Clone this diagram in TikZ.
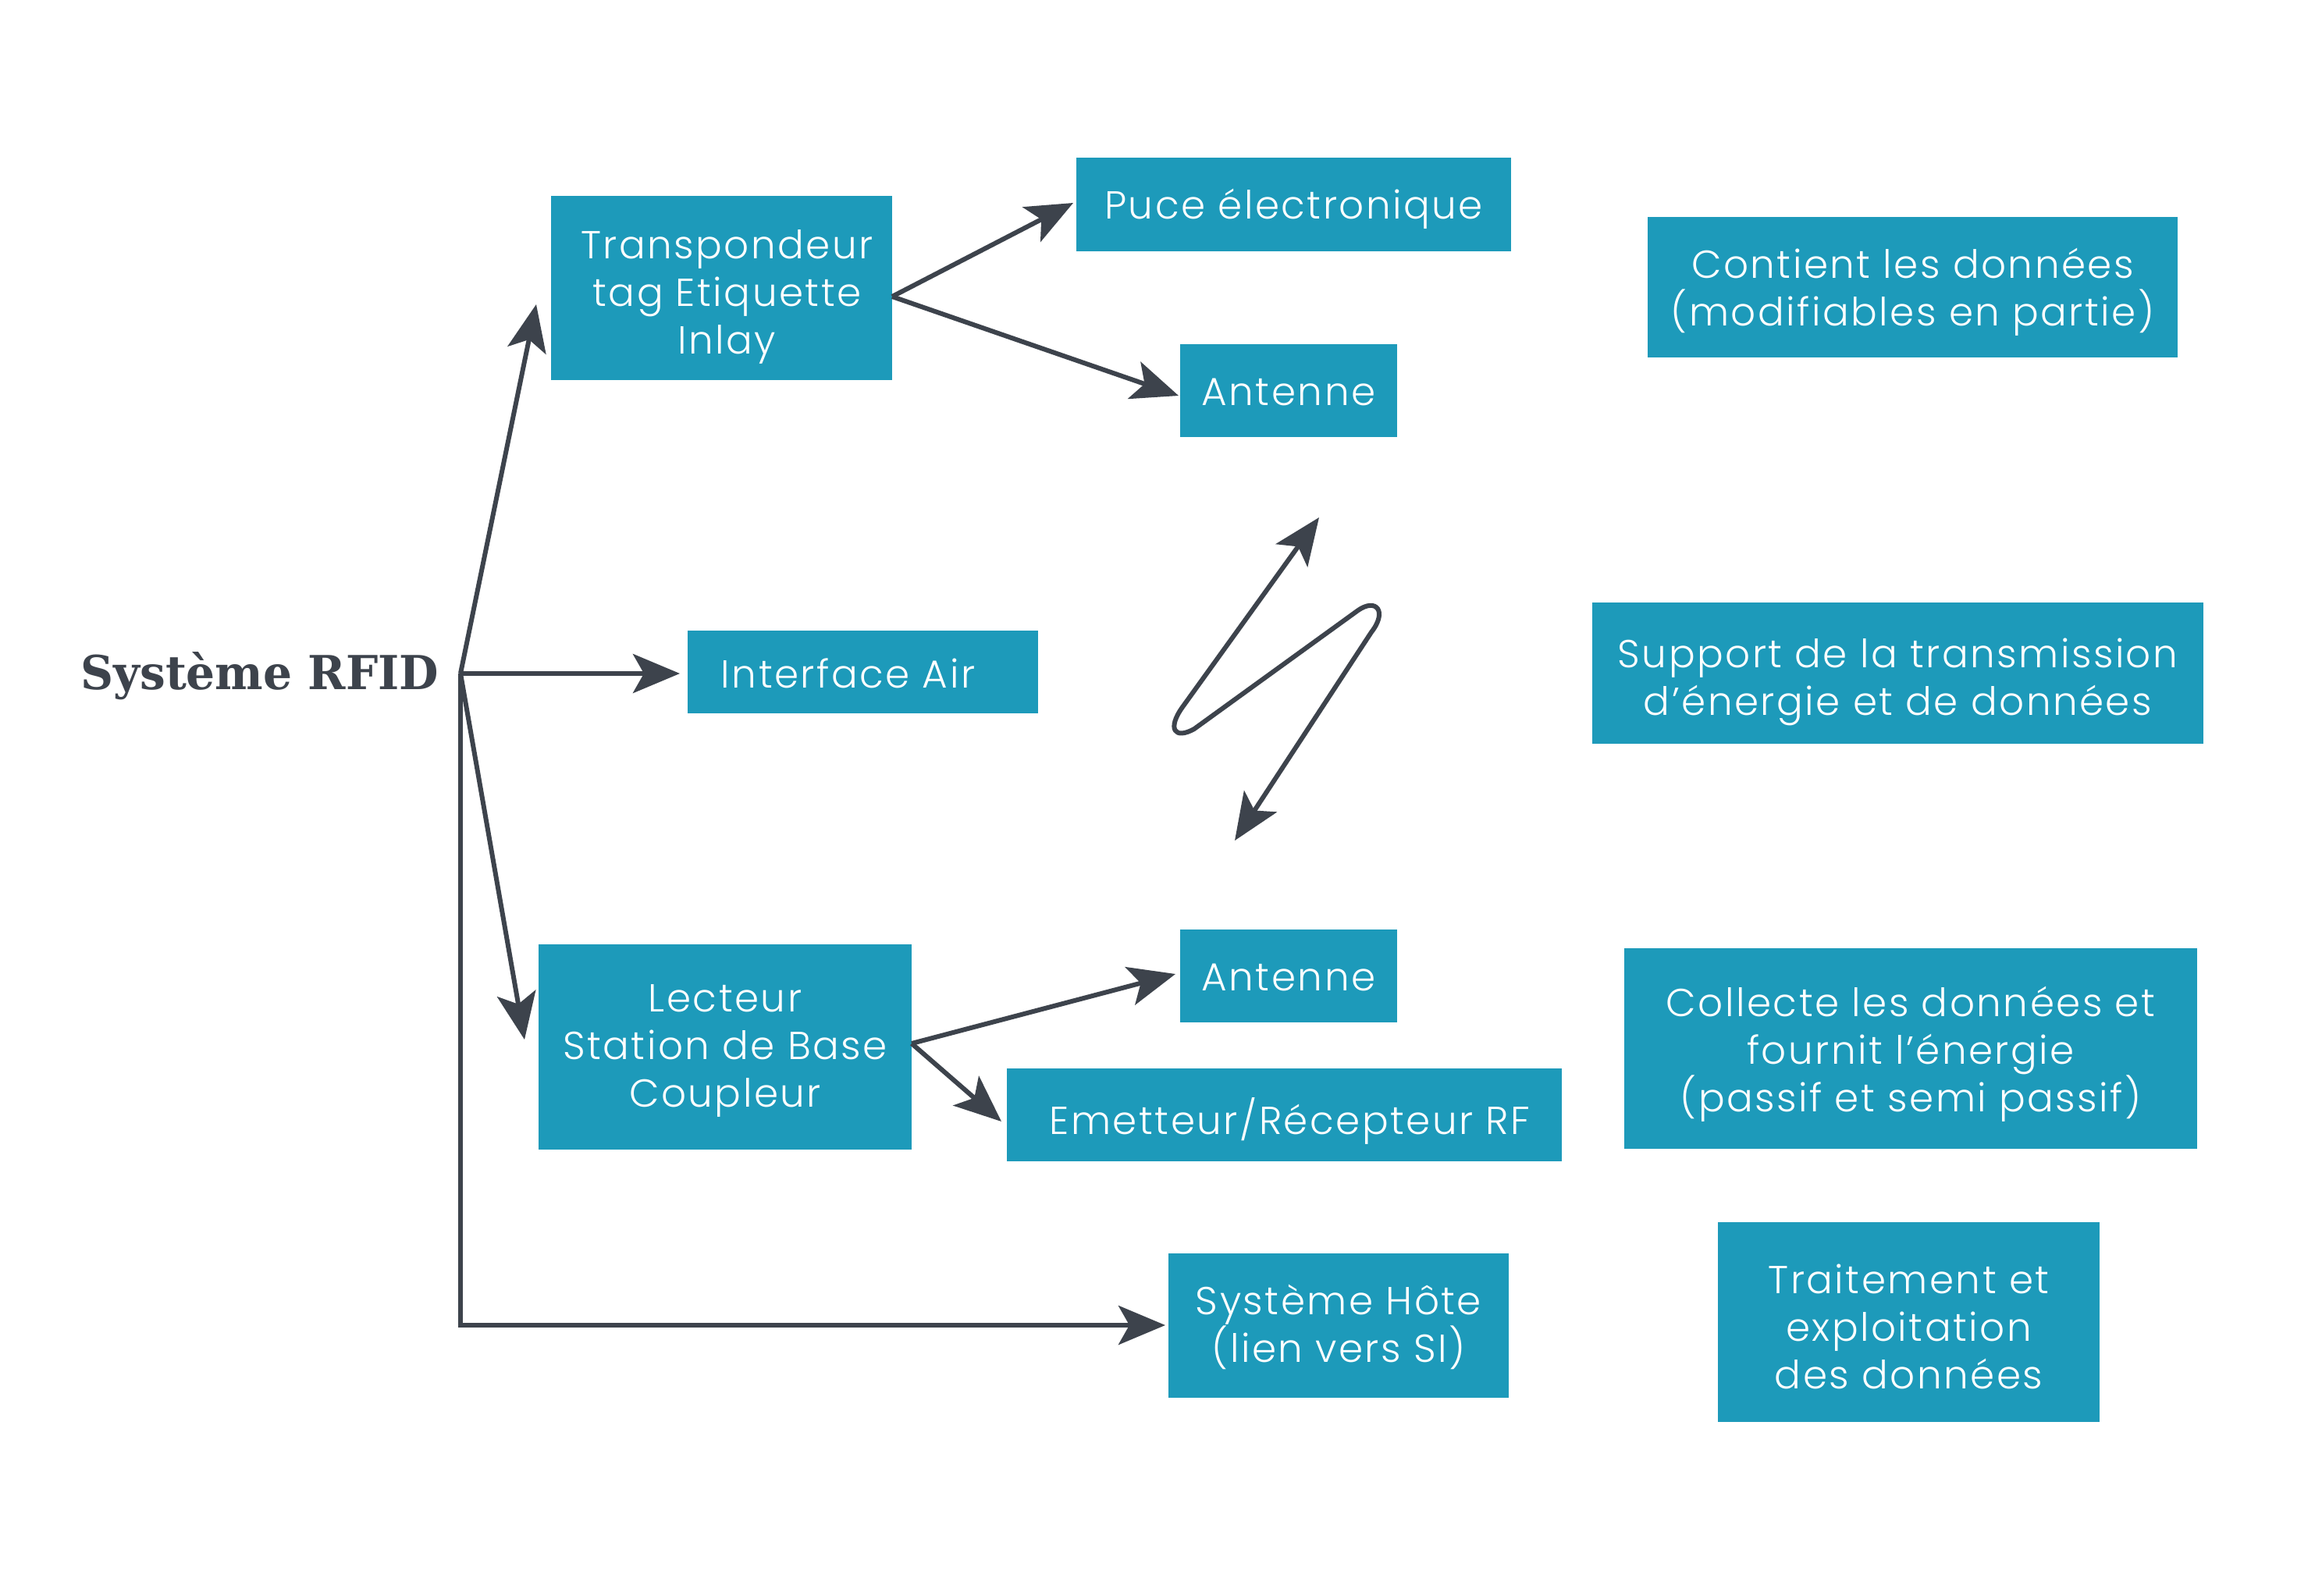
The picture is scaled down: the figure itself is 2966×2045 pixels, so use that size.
\documentclass[tikz,border=0pt]{standalone}
\usepackage{fontspec}
\setmainfont{Poppins}[UprightFont=* Light, LetterSpace=5]
\newfontfamily\rfidfont{DejaVu Serif}[FakeStretch=0.97]
\usetikzlibrary{arrows.meta}
\definecolor{boxteal}{RGB}{29,154,186}
\definecolor{arrowgray}{RGB}{61,67,76}
\tikzset{
  >={Stealth[length=15pt,width=12.5pt,inset=3.5pt]},
  box/.style={fill=boxteal, draw=none, inner sep=0pt, outer sep=0pt},
  boxtext/.style={text=white, align=center, inner sep=0pt,
    font=\fontsize{12.5pt}{15.25pt}\selectfont},
  conn/.style={draw=arrowgray, line width=1.5pt, ->},
}
% name, x1, y1, x2, y2, text dx, text dy, text (pixel coordinates)
\newcommand\mybox[8]{%
  \node[box, minimum width={0.25pt*(#4-#2)}, minimum height={0.25pt*(#5-#3)},
    label={[boxtext, xshift={0.25pt*(#6)}, yshift={-0.25pt*(#7)}]center:{#8}}]
    (#1) at ({(#2+#4)/2},{(#3+#5)/2}) {};}
\begin{document}
\begin{tikzpicture}[x=0.25pt,y=-0.25pt]
\useasboundingbox[fill=white] (0,0) rectangle (2966,2045);

% boxes
\mybox{trans}{706}{251}{1143}{487}{7}{11}{Transpondeur\\tag Etiquette\\Inlay}
\mybox{puce}{1379}{202}{1936}{322}{0}{6}{Puce électronique}
\mybox{ant1}{1512}{441}{1790}{560}{0}{2}{Antenne}
\mybox{contient}{2111}{278}{2790}{458}{0}{6}{Contient les données\\(modifiables en partie)}
\mybox{iface}{881}{808}{1330}{914}{-19}{2}{Interface Air}
\mybox{support}{2040}{772}{2823}{953}{0}{11}{Support de la transmission\\d’énergie et de données}
\mybox{lecteur}{690}{1210}{1168}{1473}{0}{5}{Lecteur\\Station de Base\\Coupleur}
\mybox{ant2}{1512}{1191}{1790}{1310}{0}{2}{Antenne}
\mybox{emet}{1290}{1369}{2001}{1488}{7}{8}{Emetteur/Récepteur RF}
\mybox{collecte}{2081}{1215}{2815}{1472}{0}{7}{Collecte les données et\\fournit l’énergie\\(passif et semi passif)}
\mybox{hote}{1497}{1606}{1933}{1791}{0}{2}{Système Hôte\\(lien vers SI)}
\mybox{trait}{2201}{1566}{2690}{1822}{0}{6}{Traitement et\\exploitation\\des données}

% root label
\node[anchor=base east, inner sep=0pt, text=arrowgray,
  font=\rfidfont\bfseries\fontsize{15pt}{18pt}\selectfont] (rfid) at (563,883) {Système RFID};

% connector points
\coordinate (hub) at (590,863);
\coordinate (tTrans) at (687,390);
\coordinate (tIface) at (871,863);
\coordinate (tLect) at (672,1332);
\coordinate (corner) at (590,1698);
\coordinate (tHote) at (1493,1698);
\coordinate (sTrans) at (1143,380);
\coordinate (tPuce) at (1375,260);
\coordinate (tAnt1) at (1510,507);
\coordinate (sLect) at (1168,1337);
\coordinate (tAnt2) at (1506,1248);
\coordinate (tEmet) at (1283,1437);
\coordinate (zTop) at (1690,663);
\coordinate (zBot) at (1582,1077);

% connectors
\draw[conn] (hub) -- (tTrans);
\draw[conn] (hub) -- (tIface);
\draw[conn] (hub) -- (tLect);
\draw[conn] (hub) -- (corner) -- (tHote);
\draw[conn] (sTrans) -- (tPuce);
\draw[conn] (sTrans) -- (tAnt1);
\draw[conn] (sLect) -- (tAnt2);
\draw[conn] (sLect) -- (tEmet);

% air interface zigzag
\draw[conn, <->, line join=round] (zTop) -- (1515,906)
  .. controls (1495,934) and (1505,948) .. (1530,934)
  -- (1740,782)
  .. controls (1763,766) and (1778,783) .. (1757,810)
  -- (zBot);
\end{tikzpicture}
\end{document}
